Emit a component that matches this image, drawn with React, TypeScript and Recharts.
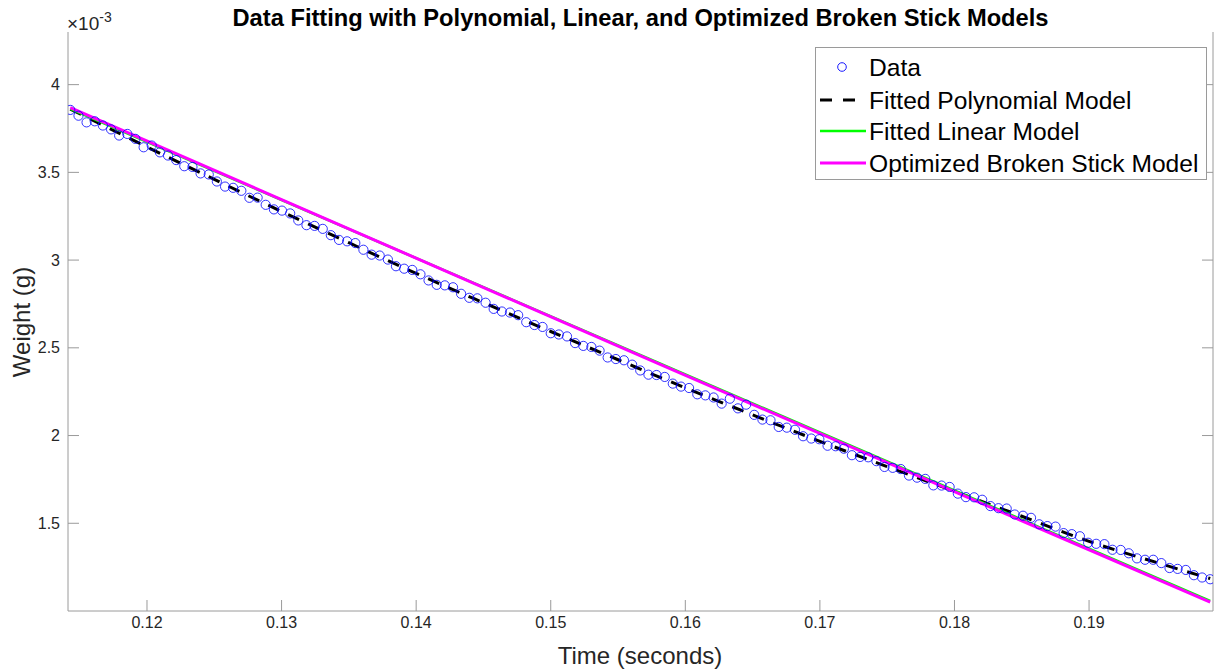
import { ComposedChart, Line, Scatter, XAxis, YAxis } from 'recharts';

// measured time samples (s)
const times = [
  0.1143, 0.11491, 0.11551, 0.11612, 0.11672, 0.11733, 0.11793, 0.11854, 0.11914, 0.11975,
  0.12035, 0.12096, 0.12156, 0.12217, 0.12277, 0.12338, 0.12398, 0.12459, 0.12519, 0.1258,
  0.1264, 0.12701, 0.12761, 0.12822, 0.12882, 0.12943, 0.13003, 0.13064, 0.13124, 0.13185,
  0.13245, 0.13306, 0.13366, 0.13427, 0.13487, 0.13548, 0.13608, 0.13669, 0.13729, 0.1379,
  0.1385, 0.13911, 0.13971, 0.14032, 0.14092, 0.14153, 0.14213, 0.14274, 0.14334, 0.14395,
  0.14455, 0.14516, 0.14576, 0.14637, 0.14697, 0.14758, 0.14818, 0.14879, 0.14939, 0.15,
  0.1506, 0.15121, 0.15181, 0.15242, 0.15302, 0.15363, 0.15423, 0.15484, 0.15544, 0.15605,
  0.15665, 0.15726, 0.15786, 0.15847, 0.15907, 0.15968, 0.16028, 0.16089, 0.16149, 0.1621,
  0.1627, 0.16331, 0.16391, 0.16452, 0.16512, 0.16573, 0.16633, 0.16694, 0.16754, 0.16815,
  0.16875, 0.16936, 0.16996, 0.17057, 0.17117, 0.17178, 0.17238, 0.17299, 0.17359, 0.1742,
  0.1748, 0.17541, 0.17601, 0.17662, 0.17722, 0.17783, 0.17843, 0.17904, 0.17964, 0.18025,
  0.18085, 0.18146, 0.18206, 0.18267, 0.18327, 0.18388, 0.18448, 0.18509, 0.18569, 0.1863,
  0.1869, 0.18751, 0.18811, 0.18872, 0.18932, 0.18993, 0.19053, 0.19114, 0.19174, 0.19235,
  0.19295, 0.19356, 0.19416, 0.19477, 0.19537, 0.19598, 0.19658, 0.19719, 0.19779, 0.1984,
  0.199,
];

// measured weights (x 1e-3 g)
const weights = [
  3.856, 3.823, 3.785, 3.791, 3.767, 3.745, 3.71, 3.719, 3.691, 3.643,
  3.653, 3.614, 3.596, 3.57, 3.535, 3.531, 3.494, 3.488, 3.448, 3.419,
  3.412, 3.395, 3.355, 3.356, 3.315, 3.289, 3.282, 3.266, 3.226, 3.199,
  3.195, 3.178, 3.142, 3.115, 3.107, 3.097, 3.059, 3.031, 3.026, 3.003,
  2.965, 2.951, 2.944, 2.919, 2.884, 2.859, 2.856, 2.845, 2.808, 2.785,
  2.782, 2.757, 2.722, 2.707, 2.701, 2.686, 2.646, 2.63, 2.619, 2.583,
  2.576, 2.565, 2.527, 2.511, 2.505, 2.484, 2.445, 2.436, 2.429, 2.404,
  2.371, 2.347, 2.345, 2.334, 2.296, 2.279, 2.271, 2.235, 2.229, 2.217,
  2.182, 2.21, 2.155, 2.176, 2.118, 2.091, 2.087, 2.049, 2.045, 2.033,
  1.996, 1.983, 1.979, 1.942, 1.939, 1.925, 1.888, 1.878, 1.876, 1.854,
  1.821, 1.816, 1.809, 1.772, 1.76, 1.753, 1.716, 1.715, 1.707, 1.669,
  1.649, 1.648, 1.634, 1.598, 1.586, 1.584, 1.55, 1.543, 1.531, 1.494,
  1.484, 1.481, 1.444, 1.438, 1.426, 1.389, 1.383, 1.381, 1.349, 1.348,
  1.329, 1.3, 1.292, 1.292, 1.273, 1.245, 1.24, 1.234, 1.204, 1.191,
  1.181,
];

// fitted polynomial model
const polyTimes = [0.1143, 0.115, 0.12, 0.125, 0.13, 0.135, 0.14, 0.145, 0.15, 0.155, 0.16, 0.165, 0.17, 0.175, 0.18, 0.185, 0.19, 0.195, 0.199];
const polyWeights = [3.86, 3.834, 3.645, 3.46, 3.277, 3.099, 2.924, 2.757, 2.593, 2.432, 2.272, 2.118, 1.967, 1.823, 1.682, 1.54, 1.397, 1.277, 1.185];

// fitted linear model
const linTimes = [0.1143, 0.199];
const linWeights = [3.862, 1.058];

// optimized broken stick model
const stickTimes = [0.1143, 0.158, 0.199];
const stickWeights = [3.869, 2.41, 1.05];

const xTicks = [0.12, 0.13, 0.14, 0.15, 0.16, 0.17, 0.18, 0.19];
const yTicks = [1.5, 2, 2.5, 3, 3.5, 4];

const dataPts = times.map((t, i) => ({ t, w: weights[i] }));
const polyPts = polyTimes.map((t, i) => ({ t, w: polyWeights[i] }));
const linPts = linTimes.map((t, i) => ({ t, w: linWeights[i] }));
const stickPts = stickTimes.map((t, i) => ({ t, w: stickWeights[i] }));

const FONT = '"Liberation Sans", Arial, Helvetica, sans-serif';
const AXIS = '#9a9a9a';
const TEXT = '#262626';
const TICK_LEN = 11;

const BottomTick = ({ x, y, payload }: any) => (
  <g>
    <line x1={x} y1={y} x2={x} y2={y - TICK_LEN} stroke={AXIS} />
    <text x={x} y={y + 11} textAnchor="middle" dominantBaseline="central" fontSize={16} fill={TEXT} fontFamily={FONT}>
      {payload.value.toFixed(2)}
    </text>
  </g>
);

const TopTick = ({ x, y }: any) => <line x1={x} y1={y} x2={x} y2={y + TICK_LEN} stroke={AXIS} />;

const LeftTick = ({ x, y, payload }: any) => (
  <g>
    <line x1={x + 8} y1={y} x2={x + 8 + TICK_LEN} y2={y} stroke={AXIS} />
    <text x={x} y={y} textAnchor="end" dominantBaseline="central" fontSize={16} fill={TEXT} fontFamily={FONT}>
      {String(payload.value)}
    </text>
  </g>
);

const RightTick = ({ x, y }: any) => <line x1={x} y1={y} x2={x - TICK_LEN} y2={y} stroke={AXIS} />;

const Ring = ({ cx, cy }: any) => <circle cx={cx} cy={cy} r={4.6} fill="none" stroke="#0000ff" strokeWidth={0.8} />;

const legendRows = [
  { label: 'Data', kind: 'marker', y: 67 },
  { label: 'Fitted Polynomial Model', kind: 'dash', y: 100 },
  { label: 'Fitted Linear Model', kind: 'green', y: 131 },
  { label: 'Optimized Broken Stick Model', kind: 'magenta', y: 163 },
];

export default function App() {
  return (
    <div style={{ position: 'absolute', left: 0, top: 0, width: 1217, height: 671, background: '#fff', fontFamily: FONT }}>
      <ComposedChart width={1217} height={671} margin={{ top: 32, right: 0, bottom: 0, left: 0 }}>
        <XAxis
          xAxisId={0}
          dataKey="t"
          type="number"
          domain={[0.11413, 0.19921]}
          allowDataOverflow
          ticks={xTicks}
          interval={0}
          height={60}
          tickSize={0}
          tickMargin={0}
          tickLine={false}
          axisLine={{ stroke: AXIS }}
          tick={<BottomTick />}
        />
        <XAxis
          xAxisId="top"
          dataKey="t"
          type="number"
          orientation="top"
          domain={[0.11413, 0.19921]}
          allowDataOverflow
          ticks={xTicks}
          interval={0}
          height={0}
          tickSize={0}
          tickMargin={0}
          tickLine={false}
          axisLine={{ stroke: AXIS }}
          tick={<TopTick />}
        />
        <YAxis
          yAxisId={0}
          type="number"
          domain={[1.0, 4.3]}
          allowDataOverflow
          ticks={yTicks}
          interval={0}
          width={68}
          tickSize={0}
          tickMargin={8}
          tickLine={false}
          axisLine={{ stroke: AXIS }}
          tick={<LeftTick />}
        />
        <YAxis
          yAxisId="right"
          orientation="right"
          type="number"
          domain={[1.0, 4.3]}
          allowDataOverflow
          ticks={yTicks}
          interval={0}
          width={4}
          tickSize={0}
          tickMargin={0}
          tickLine={false}
          axisLine={{ stroke: AXIS }}
          tick={<RightTick />}
        />
        <Scatter data={dataPts} dataKey="w" shape={<Ring />} isAnimationActive={false} />
        <Line data={polyPts} dataKey="w" type="monotone" stroke="#000" strokeWidth={3} strokeDasharray="12 10" dot={false} isAnimationActive={false} />
        <Line data={linPts} dataKey="w" type="linear" stroke="#00ff00" strokeWidth={2.5} dot={false} isAnimationActive={false} />
        <Line data={stickPts} dataKey="w" type="linear" stroke="#ff00ff" strokeWidth={3} dot={false} isAnimationActive={false} />
      </ComposedChart>

      <div style={{ position: 'absolute', left: 68, top: 6, width: 1145, textAlign: 'center', fontSize: 23.7, lineHeight: '24px', fontWeight: 'bold', color: '#000', whiteSpace: 'nowrap' }}>
        Data Fitting with Polynomial, Linear, and Optimized Broken Stick Models
      </div>

      <div style={{ position: 'absolute', left: 67, top: 14, fontSize: 19, lineHeight: '20px', color: TEXT, whiteSpace: 'nowrap' }}>
        ×10<span style={{ fontSize: 14, position: 'relative', top: -8 }}>-3</span>
      </div>

      <div style={{ position: 'absolute', left: 0, top: 643, width: 1280, textAlign: 'center', fontSize: 24, lineHeight: '26px', color: TEXT, whiteSpace: 'nowrap' }}>
        Time (seconds)
      </div>

      <div style={{ position: 'absolute', left: 22, top: 322, transform: 'translate(-50%, -50%) rotate(-90deg)', fontSize: 24, lineHeight: '26px', color: TEXT, whiteSpace: 'nowrap' }}>
        Weight (g)
      </div>

      <div style={{ position: 'absolute', left: 815, top: 47, width: 390, height: 131, border: '1px solid #9a9a9a', background: '#fff' }} />
      <svg style={{ position: 'absolute', left: 0, top: 0 }} width={1217} height={671} pointerEvents="none">
        {legendRows.map((r) => (
          <g key={r.label}>
            {r.kind === 'marker' && <circle cx={842} cy={r.y} r={4.3} fill="none" stroke="#0000ff" strokeWidth={0.9} />}
            {r.kind === 'dash' && <line x1={820} y1={r.y} x2={855} y2={r.y} stroke="#000" strokeWidth={3} strokeDasharray="12 11" />}
            {r.kind === 'green' && <line x1={820} y1={r.y} x2={866} y2={r.y} stroke="#00ff00" strokeWidth={2.5} />}
            {r.kind === 'magenta' && <line x1={820} y1={r.y} x2={866} y2={r.y} stroke="#ff00ff" strokeWidth={3} />}
            <text x={869} y={r.y} dominantBaseline="central" fontSize={24.6} fill="#000" fontFamily={FONT}>
              {r.label}
            </text>
          </g>
        ))}
      </svg>
    </div>
  );
}
